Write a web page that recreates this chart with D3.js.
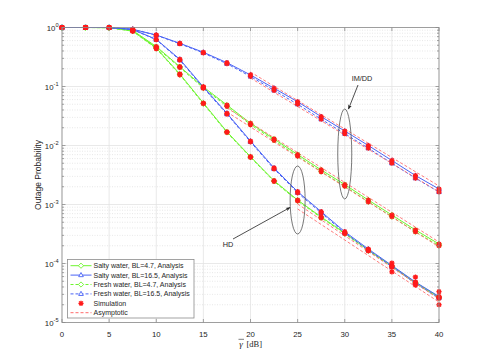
<!doctype html>
<html>
<head>
<meta charset="utf-8">
<title>Outage probability</title>
<script src="https://cdnjs.cloudflare.com/ajax/libs/d3/7.8.5/d3.min.js"></script>
<style>
    body { margin: 0; background: #fff; }
    text { font-family: 'Liberation Sans', Arial, sans-serif; fill: #262626; }
</style>
</head>
<body>
<div id="chart"></div>
<script>
    // SNR points (dB)
    var snr = [0, 2.5, 5, 7.5, 10, 12.5, 15, 17.5, 20, 22.5, 25, 27.5, 30, 32.5, 35, 37.5, 40];

    // IM/DD analysis
    var imddSalty47 = [1, 1, 0.99, 0.89, 0.476, 0.217, 0.0982, 0.0485, 0.0238, 0.0129, 0.00703, 0.00385, 0.00218, 0.00119, 0.000664, 0.00037, 0.000214];
    var imddFresh47 = [1, 1, 0.99, 0.88, 0.46, 0.21, 0.094, 0.046, 0.0226, 0.0122, 0.0066, 0.0036, 0.00204, 0.00111, 0.00062, 0.000345, 0.0002];
    var imddSalty165 = [1, 1, 1, 0.933, 0.746, 0.54, 0.38, 0.253, 0.157, 0.0933, 0.0552, 0.0308, 0.0176, 0.01, 0.00557, 0.0031, 0.00183];
    var imddFresh165 = [1, 1, 1, 0.93, 0.74, 0.53, 0.37, 0.243, 0.148, 0.086, 0.05, 0.0279, 0.0159, 0.009, 0.005, 0.00279, 0.00163];

    // HD analysis
    var hdSalty47 = [1, 1, 1, 0.871, 0.45, 0.163, 0.0525, 0.0171, 0.00646, 0.00253, 0.00119, 0.000614, 0.000329, 0.000169, 0.0000908, 0.0000476, 0.000027];
    var hdFresh47 = [1, 1, 1, 0.865, 0.44, 0.158, 0.051, 0.0166, 0.0063, 0.00246, 0.00115, 0.000595, 0.00032, 0.000164, 0.000088, 0.000046, 0.000026];
    var hdSalty165 = [1, 1, 1, 0.925, 0.631, 0.289, 0.0982, 0.0352, 0.0119, 0.00416, 0.00165, 0.000755, 0.000346, 0.000176, 0.0000925, 0.0000485, 0.0000276];
    var hdFresh165 = [1, 1, 1, 0.92, 0.62, 0.28, 0.095, 0.034, 0.0115, 0.004, 0.00158, 0.00072, 0.00033, 0.000168, 0.000088, 0.000046, 0.000026];

    // extra simulation points that scatter at high SNR
    var simExtraX = [35, 35, 37.5, 37.5, 40, 40];
    var simExtraY = [0.000102, 0.000072, 0.000059, 0.000043, 0.0000333, 0.00002];

    // asymptotic lines (start and end)
    var asymImdd165X = [20, 40];
    var asymImddSalty165 = [0.176, 0.00206];
    var asymImddFresh165 = [0.139, 0.00163];
    var asymImdd47X = [17.5, 40];
    var asymImddSalty47 = [0.0433, 0.000231];
    var asymImddFresh47 = [0.037, 0.000191];
    var asymHdX = [25, 40];
    var asymHd1 = [0.00102, 0.000025];
    var asymHd2 = [0.00084, 0.0000222];

    var xTicks = [0, 5, 10, 15, 20, 25, 30, 35, 40];
    var yDecades = [0, -1, -2, -3, -4, -5];

    var legendLabels = ["Salty water, BL=4.7, Analysis", "Salty water, BL=16.5, Analysis",
        "Fresh water, BL=4.7, Analysis", "Fresh water, BL=16.5, Analysis", "Simulation", "Asymptotic"];

    var green = "#6ef52f", blue = "#4a63f5", red = "#ff1a1a", redDash = "#ff6b6b";

    var width = 485, height = 364;
    var margin = { top: 27.5, right: 46, bottom: 41.5, left: 62 };

    var svg = d3.select("#chart").append("svg").attr("width", width).attr("height", height);

    var xScale = d3.scaleLinear([0, 40], [margin.left, width - margin.right]);
    var yScale = d3.scaleLog([1e-5, 1], [height - margin.bottom, margin.top]);

    // grid
    var minor = [];
    yDecades.slice(1).forEach(function (e) {
        for (var k = 2; k <= 9; k++) minor.push(k * Math.pow(10, e));
    });
    var grid = svg.append("g");
    grid.selectAll(".mg").data(minor).join("line")
        .attr("x1", margin.left).attr("x2", width - margin.right)
        .attr("y1", d => yScale(d)).attr("y2", d => yScale(d))
        .attr("stroke", "#d9d9d9").attr("stroke-width", 0.6).attr("stroke-dasharray", "1,1.5");
    grid.selectAll(".hg").data(yDecades).join("line")
        .attr("x1", margin.left).attr("x2", width - margin.right)
        .attr("y1", d => yScale(Math.pow(10, d))).attr("y2", d => yScale(Math.pow(10, d)))
        .attr("stroke", "#e3e3e3").attr("stroke-width", 0.8);
    grid.selectAll(".vg").data(xTicks).join("line")
        .attr("x1", d => xScale(d)).attr("x2", d => xScale(d))
        .attr("y1", margin.top).attr("y2", height - margin.bottom)
        .attr("stroke", "#e3e3e3").attr("stroke-width", 0.8);

    var line = d3.line().x(d => xScale(d[0])).y(d => yScale(d[1]));

    function pairs(xs, ys) { return xs.map((x, i) => [x, ys[i]]); }

    var series = [
        { y: imddSalty47, color: green, dash: null, marker: "diamond" },
        { y: imddFresh47, color: green, dash: "3,2", marker: "diamond" },
        { y: hdSalty47, color: green, dash: null, marker: "diamond" },
        { y: hdFresh47, color: green, dash: "3,2", marker: "diamond" },
        { y: imddSalty165, color: blue, dash: null, marker: "triangle" },
        { y: imddFresh165, color: blue, dash: "3,2", marker: "triangle" },
        { y: hdSalty165, color: blue, dash: null, marker: "triangle" },
        { y: hdFresh165, color: blue, dash: "3,2", marker: "triangle" }
    ];

    var asym = [
        pairs(asymImdd165X, asymImddSalty165), pairs(asymImdd165X, asymImddFresh165),
        pairs(asymImdd47X, asymImddSalty47), pairs(asymImdd47X, asymImddFresh47),
        pairs(asymHdX, asymHd1), pairs(asymHdX, asymHd2)
    ];

    function markerPath(type, s) {
        if (type === "diamond") return `M0,${-s}L${s},0L0,${s}L${-s},0Z`;
        return `M0,${-s}L${s * 0.9},${s * 0.6}L${-s * 0.9},${s * 0.6}Z`;
    }
    var starPath = "M-2.6,0H2.6M0,-2.6V2.6M-1.9,-1.9L1.9,1.9M-1.9,1.9L1.9,-1.9";

    var plot = svg.append("g");

    series.forEach(function (s) {
        plot.append("path").datum(pairs(snr, s.y))
            .attr("d", line).attr("fill", "none")
            .attr("stroke", s.color).attr("stroke-width", 1)
            .attr("stroke-dasharray", s.dash);
    });
    asym.forEach(function (a) {
        plot.append("path").datum(a).attr("d", line).attr("fill", "none")
            .attr("stroke", redDash).attr("stroke-width", 0.9).attr("stroke-dasharray", "3,2");
    });
    series.forEach(function (s) {
        plot.selectAll(null).data(pairs(snr, s.y)).join("path")
            .attr("transform", d => `translate(${xScale(d[0])},${yScale(d[1])})`)
            .attr("d", markerPath(s.marker, 2.6))
            .attr("fill", "none").attr("stroke", s.color).attr("stroke-width", 0.9);
    });
    // simulation markers
    var simPts = [];
    series.forEach(s => simPts = simPts.concat(pairs(snr, s.y)));
    simPts = simPts.concat(pairs(simExtraX, simExtraY));
    plot.selectAll(null).data(simPts).join("path")
        .attr("transform", d => `translate(${xScale(d[0])},${yScale(d[1])})`)
        .attr("d", starPath).attr("stroke", red).attr("stroke-width", 1.3).attr("fill", "none");

    // axes box and ticks
    var ax = svg.append("g").attr("stroke", "#8c8c8c").attr("stroke-width", 0.8);
    ax.append("rect").attr("x", margin.left).attr("y", margin.top)
        .attr("width", width - margin.left - margin.right)
        .attr("height", height - margin.top - margin.bottom).attr("fill", "none");
    xTicks.forEach(function (t) {
        ax.append("line").attr("x1", xScale(t)).attr("x2", xScale(t))
            .attr("y1", height - margin.bottom).attr("y2", height - margin.bottom - 3.5);
        ax.append("line").attr("x1", xScale(t)).attr("x2", xScale(t))
            .attr("y1", margin.top).attr("y2", margin.top + 3.5);
    });
    yDecades.forEach(function (e) {
        var y = yScale(Math.pow(10, e));
        ax.append("line").attr("x1", margin.left).attr("x2", margin.left + 3.5).attr("y1", y).attr("y2", y);
        ax.append("line").attr("x1", width - margin.right).attr("x2", width - margin.right - 3.5).attr("y1", y).attr("y2", y);
    });
    minor.forEach(function (v) {
        var y = yScale(v);
        ax.append("line").attr("x1", margin.left).attr("x2", margin.left + 2).attr("y1", y).attr("y2", y);
        ax.append("line").attr("x1", width - margin.right).attr("x2", width - margin.right - 2).attr("y1", y).attr("y2", y);
    });

    // tick labels
    svg.selectAll(".xt").data(xTicks).join("text")
        .attr("x", d => xScale(d)).attr("y", height - margin.bottom + 14)
        .attr("text-anchor", "middle").attr("font-size", 7.8).text(d => d);
    yDecades.forEach(function (e) {
        var t = svg.append("text").attr("x", margin.left - 3.5).attr("y", yScale(Math.pow(10, e)) + 3)
            .attr("text-anchor", "end").attr("font-size", 7.8);
        t.append("tspan").text("10");
        t.append("tspan").attr("dy", -3.5).attr("font-size", 5.6).text(e);
    });

    svg.append("text").attr("transform", `translate(41,${(margin.top + height - margin.bottom) / 2}) rotate(-90)`)
        .attr("text-anchor", "middle").attr("font-size", 8.5).text("Outage Probability");

    // x label: gamma with bar, then [dB]
    var xl = svg.append("g").style("font-family", "'Liberation Serif', 'DejaVu Serif', serif");
    xl.append("text").attr("x", 241).attr("y", 346.5).attr("text-anchor", "middle")
        .attr("font-size", 9).attr("font-style", "italic").style("font-family", "'Liberation Serif', serif").text("γ");
    xl.append("line").attr("x1", 238.5).attr("x2", 244).attr("y1", 339.3).attr("y2", 339.3)
        .attr("stroke", "#262626").attr("stroke-width", 0.6);
    xl.append("text").attr("x", 246.5).attr("y", 346.5).attr("font-size", 8.5)
        .style("font-family", "'Liberation Serif', serif").text("[dB]");

    // annotations
    svg.append("defs").append("marker").attr("id", "arr").attr("viewBox", "0 0 10 10")
        .attr("refX", 9).attr("refY", 5).attr("markerWidth", 6).attr("markerHeight", 6)
        .attr("orient", "auto")
        .append("path").attr("d", "M0,1L10,5L0,9L3,5Z").attr("fill", "#222");
    var ann = svg.append("g").attr("stroke", "#555").attr("fill", "none").attr("stroke-width", 0.8);
    ann.append("ellipse").attr("cx", xScale(30)).attr("cy", 154).attr("rx", 7).attr("ry", 45);
    ann.append("ellipse").attr("cx", xScale(25)).attr("cy", 200).attr("rx", 7.5).attr("ry", 34);
    ann.append("line").attr("x1", 358).attr("y1", 85).attr("x2", 348.5).attr("y2", 109)
        .attr("stroke", "#222").attr("marker-end", "url(#arr)");
    ann.append("line").attr("x1", 233).attr("y1", 239).attr("x2", 290).attr("y2", 207.5)
        .attr("stroke", "#222").attr("marker-end", "url(#arr)");
    svg.append("text").attr("x", 362).attr("y", 80.5).attr("text-anchor", "middle")
        .attr("font-size", 7.3).text("IM/DD");
    svg.append("text").attr("x", 228).attr("y", 246.5).attr("text-anchor", "middle")
        .attr("font-size", 7.3).text("HD");

    // legend
    var lg = svg.append("g");
    lg.append("rect").attr("x", 67.5).attr("y", 259.5).attr("width", 126.5).attr("height", 58.5)
        .attr("fill", "#fff").attr("stroke", "#8c8c8c").attr("stroke-width", 0.8);
    var legendItems = [
        { color: green, dash: null, marker: "diamond" },
        { color: blue, dash: null, marker: "triangle" },
        { color: green, dash: "3,2", marker: "diamond" },
        { color: blue, dash: "3,2", marker: "triangle" },
        { color: red, dash: null, marker: "star" },
        { color: redDash, dash: "3,2", marker: null }
    ];
    legendItems.forEach(function (it, i) {
        var y = 265.7 + i * 9.4;
        if (it.marker !== "star") {
            lg.append("line").attr("x1", 70.5).attr("x2", 91.5).attr("y1", y).attr("y2", y)
                .attr("stroke", it.color).attr("stroke-width", 1).attr("stroke-dasharray", it.dash);
        }
        if (it.marker === "star") {
            lg.append("path").attr("transform", `translate(81,${y})`).attr("d", starPath)
                .attr("stroke", it.color).attr("stroke-width", 1.3).attr("fill", "none");
        } else if (it.marker) {
            lg.append("path").attr("transform", `translate(81,${y})`).attr("d", markerPath(it.marker, 2.6))
                .attr("fill", "#fff").attr("stroke", it.color).attr("stroke-width", 0.9);
        }
        lg.append("text").attr("x", 93.5).attr("y", y + 2.5).attr("font-size", 7).text(legendLabels[i]);
    });
</script>
</body>
</html>
